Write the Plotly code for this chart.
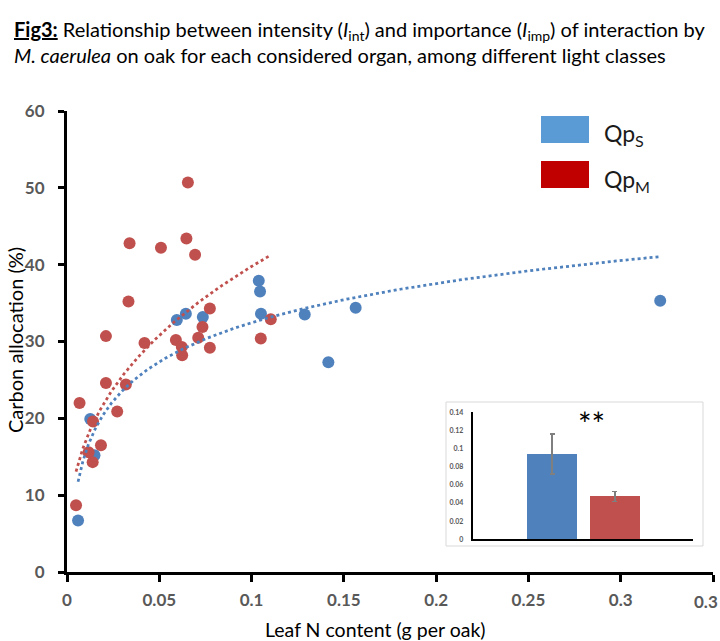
import numpy as np
import plotly.graph_objects as go

# ---------------- data ----------------
qps_x = [0.0595, 0.0644, 0.0736, 0.1039, 0.1046, 0.1051, 0.1288, 0.1564, 0.3214,
         0.1416, 0.0126, 0.0149, 0.0060]
qps_y = [32.8, 33.6, 33.2, 37.9, 36.5, 33.6, 33.5, 34.4, 35.3,
         27.3, 19.9, 15.2, 6.7]

qpm_x = [0.0655, 0.0339, 0.0509, 0.0647, 0.0694, 0.0333, 0.0774, 0.0734, 0.1104,
         0.0211, 0.0420, 0.0590, 0.0711, 0.1050, 0.0622, 0.0774, 0.0624, 0.0211,
         0.0319, 0.0068, 0.0272, 0.0141, 0.0184, 0.0117, 0.0139, 0.0049]
qpm_y = [50.7, 42.8, 42.2, 43.4, 41.3, 35.2, 34.3, 31.9, 32.9,
         30.7, 29.8, 30.2, 30.5, 30.4, 29.3, 29.2, 28.2, 24.6,
         24.4, 22.0, 20.9, 19.6, 16.5, 15.6, 14.3, 8.7]

inset_labels = ["Qp<sub>S</sub>", "Qp<sub>M</sub>"]
inset_values = [0.094, 0.047]
inset_errors = [0.022, 0.0055]

x_ticks = [0, 0.05, 0.1, 0.15, 0.2, 0.25, 0.3, 0.35]
y_ticks = [0, 10, 20, 30, 40, 50, 60]
inset_y_ticks = [0, 0.02, 0.04, 0.06, 0.08, 0.1, 0.12, 0.14]
edge_tick_visible_part = "0.3"   # the "0.35" label is cut by the right border

# ---------------- colours / layout helpers ----------------
C_BLUE = "#4F81BD"
C_RED = "#C0504D"
C_LEG_BLUE = "#5B9BD5"
C_LEG_RED = "#C00000"
GRAY = "#595959"
FONT = "Lato"

W, H = 720, 641
L, R, T, B = 67, 7, 111, 69
PW, PH = W - L - R, H - T - B


def px(x):
    return (x - L) / PW


def py(y):
    return (H - B - y) / PH


# ---------------- trendlines (fitted from the data, as Excel does) ----------------
bx = np.array(qps_x)
by = np.array(qps_y)
a_log, b_log = np.polyfit(np.log(bx), by, 1)          # logarithmic trend
bxs = np.geomspace(bx.min(), bx.max(), 300)
bys = a_log * np.log(bxs) + b_log

rx = np.array(qpm_x)
ry = np.array(qpm_y)
p_pow, lnc_pow = np.polyfit(np.log(rx), np.log(ry), 1)  # power trend
rxs = np.geomspace(rx.min(), rx.max(), 300)
rys = np.exp(lnc_pow) * rxs ** p_pow

fig = go.Figure()

fig.add_trace(go.Scatter(x=qps_x, y=qps_y, mode="markers",
                         marker=dict(color=C_BLUE, size=12, line=dict(width=0)),
                         showlegend=False))
fig.add_trace(go.Scatter(x=qpm_x, y=qpm_y, mode="markers",
                         marker=dict(color=C_RED, size=12, line=dict(width=0)),
                         showlegend=False))
fig.add_trace(go.Scatter(x=bxs, y=bys, mode="lines",
                         line=dict(color=C_BLUE, width=2.75, dash="dot"),
                         showlegend=False))
fig.add_trace(go.Scatter(x=rxs, y=rys, mode="lines",
                         line=dict(color=C_RED, width=2.75, dash="dot"),
                         showlegend=False))

# inset bar chart
fig.add_trace(go.Bar(x=inset_labels, y=inset_values, xaxis="x2", yaxis="y2",
                     marker=dict(color=[C_BLUE, C_RED], line=dict(width=0)),
                     width=0.79,
                     error_y=dict(type="data", array=inset_errors, visible=True,
                                  color="#7F7F7F", thickness=1.5, width=2.5),
                     showlegend=False))

axis_common = dict(showgrid=False, zeroline=False, showline=True,
                   linecolor="black", ticks="outside", tickcolor="black")

fig.update_layout(
    width=W, height=H, autosize=False,
    margin=dict(l=L, r=R, t=T, b=B, pad=0),
    paper_bgcolor="white", plot_bgcolor="white",
    showlegend=False,
    font=dict(family=FONT, color="black"),
    xaxis=dict(range=[0, 0.35], tickvals=x_ticks, linewidth=3, ticklen=7, tickwidth=2.5,
               tickfont=dict(family=FONT, size=17, color=GRAY, weight=700),
               ticklabelstandoff=4, **axis_common),
    yaxis=dict(range=[0, 60], tickvals=y_ticks, linewidth=3, ticklen=6, tickwidth=2.5,
               tickfont=dict(family=FONT, size=17, color=GRAY, weight=700),
               ticklabelstandoff=10, **axis_common),
    xaxis2=dict(domain=[px(472.7), px(693)], anchor="y2", type="category",
                range=[-1.26, 2.24], showticklabels=False, showgrid=False,
                zeroline=False, showline=True, linecolor="black", linewidth=2,
                ticks=""),
    yaxis2=dict(domain=[py(539.3), py(412.3)], anchor="x2", range=[0, 0.14],
                tickvals=inset_y_ticks, showgrid=False, zeroline=False,
                showline=True, linecolor="black", linewidth=2, ticks="",
                tickfont=dict(family=FONT, size=7, color=GRAY, weight=700),
                ticklabelstandoff=6),
    bargap=0,
)

shapes = [
    # inset frame
    dict(type="rect", xref="paper", yref="paper", x0=px(446), x1=px(703),
         y0=py(546), y1=py(402), fillcolor="white",
         line=dict(color="#D9D9D9", width=1), layer="below"),
    # legend swatches
    dict(type="rect", xref="paper", yref="paper", x0=px(541), x1=px(589),
         y0=py(143), y1=py(116), fillcolor=C_LEG_BLUE, line=dict(width=0)),
    dict(type="rect", xref="paper", yref="paper", x0=px(541), x1=px(589),
         y0=py(188), y1=py(161), fillcolor=C_LEG_RED, line=dict(width=0)),
]
fig.update_layout(shapes=shapes)

annotations = [
    dict(text="<b><span style='text-decoration:underline'>Fig3:</span></b> Relationship between "
              "intensity (<i>I</i><sub>int</sub>) and importance (<i>I</i><sub>imp</sub>) of interaction by",
         x=px(12), y=py(31), xanchor="left", yanchor="middle",
         font=dict(family=FONT, size=20, color="black")),
    dict(text="<i>M. caerulea</i> on oak for each considered organ, among different light classes",
         x=px(12), y=py(55), xanchor="left", yanchor="middle",
         font=dict(family=FONT, size=20, color="black")),
    dict(text="Qp<sub>S</sub>", x=px(602), y=py(134), xanchor="left", yanchor="middle",
         font=dict(family=FONT, size=23, color="#1A1A1A")),
    dict(text="Qp<sub>M</sub>", x=px(602), y=py(180), xanchor="left", yanchor="middle",
         font=dict(family=FONT, size=23, color="#1A1A1A")),
    dict(text="**", x=px(591), y=py(423), xanchor="center", yanchor="middle",
         font=dict(family=FONT, size=32, color="black")),
    dict(text="Carbon allocation (%)", x=px(15), y=py(340), textangle=-90,
         xanchor="center", yanchor="middle",
         font=dict(family=FONT, size=20, color="black")),
    dict(text="Leaf N content (g per oak)", x=px(375), y=py(629),
         xanchor="center", yanchor="middle",
         font=dict(family=FONT, size=19.5, color="black")),
    # visible part of the last x tick label, cut by the page border
    dict(text=edge_tick_visible_part, x=px(720), y=py(601), xanchor="right",
         yanchor="middle", font=dict(family=FONT, size=17, color=GRAY, weight=700)),
]
for a in annotations:
    a.update(xref="paper", yref="paper", showarrow=False)
fig.update_layout(annotations=annotations)

fig.write_html("out.html")
